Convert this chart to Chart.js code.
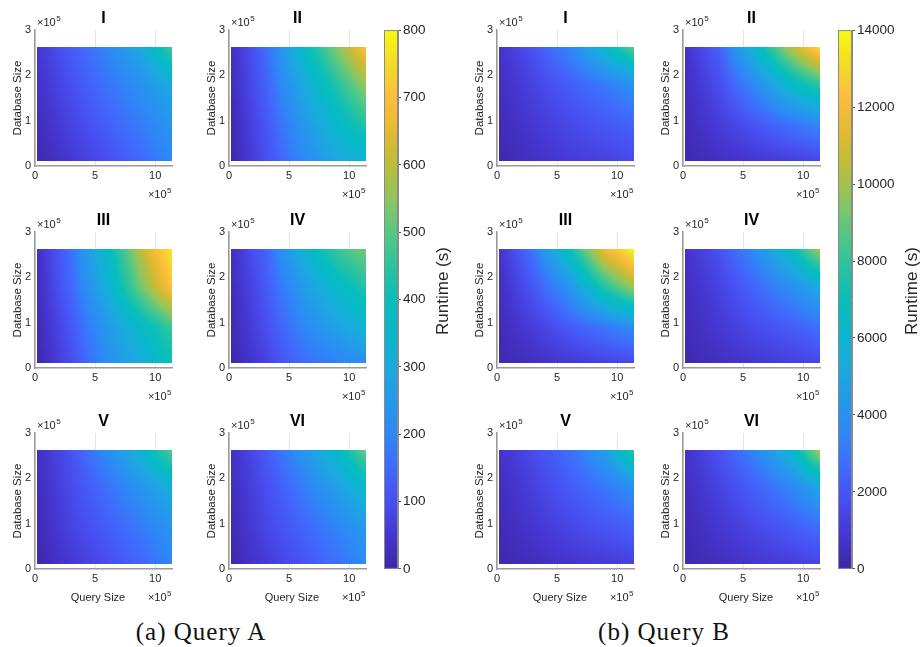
<!DOCTYPE html>
<html>
<head>
<meta charset="utf-8">
<script src="https://cdn.jsdelivr.net/npm/chart.js@4.4.0/dist/chart.umd.min.js"></script>
<style>
  html, body { margin: 0; padding: 0; background: #fff; }
  #fig { position: relative; width: 922px; height: 647px; overflow: hidden; background: #fff; }
  #fig canvas { position: absolute; }
  .cap { position: absolute; font-family: "Liberation Serif", "Times New Roman", serif; font-size: 25px;
         color: #111; white-space: nowrap; transform: translate(-50%, -50%); letter-spacing: 1px; }
</style>
</head>
<body>
<div id="fig"></div>
<script>
// ---- grid nodes of the runtime surfaces ----
const querySizes    = [0.2e5, 3e5, 6e5, 9e5, 11.4e5];
const databaseSizes = [0.1e5, 0.9e5, 1.8e5, 2.63e5];

// ---- axis ticks ----
const xTickValues = [0, 5e5, 10e5];
const xTickLabels = ['0', '5', '10'];
const yTickValues = [0, 1e5, 2e5, 3e5];
const yTickLabels = ['0', '1', '2', '3'];
const runtimeTicksA = [0, 100, 200, 300, 400, 500, 600, 700, 800];
const runtimeTicksB = [0, 2000, 4000, 6000, 8000, 10000, 12000, 14000];

const panelNames = ['I', 'II', 'III', 'IV', 'V', 'VI'];
const yAxisTitle = 'Database Size';
const xAxisTitle = 'Query Size';
const colorbarTitle = 'Runtime (s)';
const captions = ['(a) Query A', '(b) Query B'];

// ---- runtime (s), rows = databaseSizes (ascending), cols = querySizes ----
const runtimeA_I   = [[8, 50, 95, 150, 205], [20, 75, 130, 185, 240], [35, 100, 165, 230, 300], [50, 125, 200, 310, 480]];
const runtimeA_II  = [[5, 95, 200, 290, 330], [12, 110, 235, 355, 440], [22, 130, 290, 440, 560], [30, 145, 360, 545, 700]];
const runtimeA_III = [[5, 95, 215, 310, 400], [12, 115, 245, 370, 470], [22, 145, 320, 540, 710], [30, 160, 370, 610, 780]];
const runtimeA_IV  = [[5, 70, 150, 190, 215], [12, 95, 195, 275, 335], [22, 115, 250, 365, 440], [30, 135, 320, 470, 530]];
const runtimeA_V   = [[5, 50, 95, 145, 200], [12, 75, 125, 180, 235], [22, 90, 160, 240, 320], [30, 105, 215, 350, 500]];
const runtimeA_VI  = [[5, 55, 105, 160, 215], [13, 80, 135, 195, 255], [24, 95, 175, 265, 360], [35, 115, 235, 370, 520]];

const runtimeB_I   = [[150, 550, 1000, 1250, 1500], [300, 900, 1500, 2000, 2400], [500, 1300, 2200, 3100, 4000], [700, 1900, 3500, 6200, 9000]];
const runtimeB_II  = [[150, 500, 850, 1150, 1400], [300, 1050, 1900, 2800, 3500], [450, 1700, 3700, 6300, 8000], [700, 2300, 6200, 10400, 13200]];
const runtimeB_III = [[150, 500, 900, 1250, 1500], [300, 1100, 2100, 3000, 3800], [480, 2000, 4100, 7800, 10000], [750, 2900, 7000, 11800, 14000]];
const runtimeB_IV  = [[150, 500, 850, 1150, 1400], [300, 900, 1600, 2200, 2800], [450, 1300, 2500, 3900, 5300], [700, 1800, 3800, 6600, 10200]];
const runtimeB_V   = [[120, 400, 750, 1000, 1200], [280, 800, 1400, 1900, 2300], [450, 1200, 2100, 3000, 3900], [700, 1600, 2700, 4700, 8000]];
const runtimeB_VI  = [[130, 450, 800, 1100, 1350], [280, 850, 1500, 2100, 2700], [450, 1300, 2300, 3500, 5000], [700, 1800, 3500, 6000, 10200]];

const groups = [
  { panels: [runtimeA_I, runtimeA_II, runtimeA_III, runtimeA_IV, runtimeA_V, runtimeA_VI], max: 800, ticks: runtimeTicksA },
  { panels: [runtimeB_I, runtimeB_II, runtimeB_III, runtimeB_IV, runtimeB_V, runtimeB_VI], max: 14000, ticks: runtimeTicksB }
];

const FONT = '"Liberation Sans", Arial, Helvetica, sans-serif';
const TEXT = '#262626';
const X_MAX = 11.4e5, Y_MAX = 3e5;

// parula-like colour ramp
const RAMP = [
  [0.000, 62, 38, 168], [0.0625, 69, 55, 209], [0.125, 72, 79, 240], [0.1875, 64, 106, 252],
  [0.250, 46, 135, 247], [0.3125, 36, 153, 235], [0.375, 26, 170, 222], [0.4375, 8, 183, 204],
  [0.500, 9, 190, 186], [0.5625, 42, 196, 160], [0.625, 86, 200, 132], [0.6875, 143, 198, 96],
  [0.750, 190, 189, 59], [0.8125, 229, 186, 49], [0.875, 253, 190, 60], [0.9375, 244, 219, 40],
  [1.000, 249, 251, 14]
];
function parula(t) {
  t = Math.max(0, Math.min(1, t));
  for (let i = 1; i < RAMP.length; i++) {
    if (t <= RAMP[i][0]) {
      const a = RAMP[i - 1], b = RAMP[i], f = (t - a[0]) / (b[0] - a[0]);
      return [a[1] + f * (b[1] - a[1]), a[2] + f * (b[2] - a[2]), a[3] + f * (b[3] - a[3])];
    }
  }
  const l = RAMP[RAMP.length - 1];
  return [l[1], l[2], l[3]];
}

function segment(nodes, v) {
  let i = 0;
  while (i < nodes.length - 2 && v > nodes[i + 1]) i++;
  const f = Math.max(0, Math.min(1, (v - nodes[i]) / (nodes[i + 1] - nodes[i])));
  return [i, f];
}
function surfaceValue(xs, ys, z, xv, yv) {
  const [i, fx] = segment(xs, xv);
  const [j, fy] = segment(ys, yv);
  const a = z[j][i] + fx * (z[j][i + 1] - z[j][i]);
  const b = z[j + 1][i] + fx * (z[j + 1][i + 1] - z[j + 1][i]);
  return a + fy * (b - a);
}

// interpolated surface painted through the chart's own scales
const surfacePlugin = {
  id: 'surface',
  beforeDatasetsDraw(chart, args, o) {
    if (!o || !o.z) return;
    const { x, y } = chart.scales;
    const ctx = chart.ctx;
    const px0 = Math.round(x.getPixelForValue(o.xs[0]));
    const px1 = Math.round(x.getPixelForValue(o.xs[o.xs.length - 1]));
    const py0 = Math.round(y.getPixelForValue(o.ys[o.ys.length - 1]));
    const py1 = Math.round(y.getPixelForValue(o.ys[0]));
    const w = px1 - px0, h = py1 - py0;
    const img = ctx.createImageData(w, h);
    for (let j = 0; j < h; j++) {
      const yv = y.getValueForPixel(py0 + j + 0.5);
      for (let i = 0; i < w; i++) {
        const xv = x.getValueForPixel(px0 + i + 0.5);
        const c = parula(surfaceValue(o.xs, o.ys, o.z, xv, yv) / o.max);
        const k = (j * w + i) * 4;
        img.data[k] = c[0]; img.data[k + 1] = c[1]; img.data[k + 2] = c[2]; img.data[k + 3] = 255;
      }
    }
    const off = document.createElement('canvas');
    off.width = w; off.height = h;
    off.getContext('2d').putImageData(img, 0, 0);
    ctx.drawImage(off, px0, py0);
  }
};

function drawExponent(ctx, x, baseline, align) {
  ctx.save();
  ctx.fillStyle = TEXT;
  ctx.textBaseline = 'alphabetic';
  ctx.textAlign = 'left';
  ctx.font = '11px ' + FONT;
  const base = '\u00d710';
  const w1 = ctx.measureText(base).width;
  ctx.font = '8px ' + FONT;
  const w2 = ctx.measureText('5').width;
  const x0 = align === 'right' ? x - w1 - w2 - 1 : x;
  ctx.font = '11px ' + FONT;
  ctx.fillText(base, x0, baseline);
  ctx.font = '8px ' + FONT;
  ctx.fillText('5', x0 + w1 + 0.5, baseline - 5);
  ctx.restore();
}

const panelTextPlugin = {
  id: 'panelText',
  afterDraw(chart, args, o) {
    const { ctx, chartArea: a } = chart;
    ctx.save();
    ctx.fillStyle = '#000';
    ctx.font = 'bold 16px ' + FONT;
    ctx.textAlign = 'center';
    ctx.textBaseline = 'middle';
    ctx.fillText(o.title, (a.left + a.right) / 2, a.top - 11.5);

    drawExponent(ctx, a.left + 2, a.top - 4, 'left');
    drawExponent(ctx, a.right, a.bottom + 31.5, 'right');

    ctx.fillStyle = TEXT;
    ctx.font = '11.5px ' + FONT;
    ctx.save();
    ctx.translate(a.left - 17, (a.top + a.bottom) / 2);
    ctx.rotate(-Math.PI / 2);
    ctx.textAlign = 'center';
    ctx.textBaseline = 'middle';
    ctx.fillText(yAxisTitle, 0, 0);
    ctx.restore();

    if (o.showX) {
      ctx.font = '11px ' + FONT;
      ctx.textAlign = 'center';
      ctx.textBaseline = 'alphabetic';
      ctx.fillText(xAxisTitle, a.left + 0.46 * (a.right - a.left), a.bottom + 31.5);
    }
    ctx.restore();
  }
};

const colorbarPlugin = {
  id: 'colorbar',
  beforeDatasetsDraw(chart, args, o) {
    if (!o || !o.max) return;
    const { ctx, chartArea: a, scales: { y } } = chart;
    for (let py = Math.floor(a.top); py < Math.ceil(a.bottom); py++) {
      const c = parula(y.getValueForPixel(py + 0.5) / o.max);
      ctx.fillStyle = `rgb(${c[0] | 0},${c[1] | 0},${c[2] | 0})`;
      ctx.fillRect(a.left, py, a.right - a.left, 1);
    }
    ctx.save();
    ctx.strokeStyle = '#8a8a8a';
    ctx.lineWidth = 1;
    ctx.strokeRect(a.left + 0.5, a.top + 0.5, a.right - a.left - 1, a.bottom - a.top - 1);
    ctx.restore();
  },
  afterDraw(chart, args, o) {
    if (!o || !o.max) return;
    const { ctx } = chart;
    ctx.save();
    ctx.fillStyle = TEXT;
    ctx.font = '17px ' + FONT;
    ctx.translate(o.labelX, o.labelY - chart.canvas.offsetTop);
    ctx.rotate(-Math.PI / 2);
    ctx.textAlign = 'center';
    ctx.textBaseline = 'middle';
    ctx.fillText(colorbarTitle, 0, 0);
    ctx.restore();
  }
};

const fig = document.getElementById('fig');
function addCanvas(left, top, w, h) {
  const c = document.createElement('canvas');
  c.width = w; c.height = h;
  c.style.left = left + 'px'; c.style.top = top + 'px';
  c.style.width = w + 'px'; c.style.height = h + 'px';
  fig.appendChild(c);
  return c;
}

// layout of the two panel groups
const AX_W = 137, AX_H = 136, Y_AX = 40, X_AX = 40, PAD_T = 30, PAD_R = 8;
const colLefts = [[35, 229], [497, 683]];
const rowTops = [30, 232, 433];
const colorbars = [
  { left: 384, width: 80, labelX: 59 },
  { left: 838, width: 84, labelX: 74 }
];
const captionPos = [[201, 632], [664, 632]];

groups.forEach((g, gi) => {
  g.panels.forEach((z, pi) => {
    const row = Math.floor(pi / 2), col = pi % 2;
    const L = colLefts[gi][col], T = rowTops[row];
    const canvas = addCanvas(L - Y_AX, T - PAD_T, Y_AX + AX_W + PAD_R, PAD_T + AX_H + X_AX);
    const nodes = [];
    databaseSizes.forEach(d => querySizes.forEach(q => nodes.push({ x: q, y: d })));
    new Chart(canvas, {
      type: 'scatter',
      data: { datasets: [{ data: nodes, pointRadius: 0, pointHoverRadius: 0 }] },
      options: {
        responsive: false, animation: false, devicePixelRatio: 1,
        events: [],
        layout: { padding: { left: 0, top: PAD_T, right: PAD_R, bottom: 0 } },
        plugins: {
          legend: { display: false }, tooltip: { enabled: false },
          surface: { xs: querySizes, ys: databaseSizes, z: z, max: g.max },
          panelText: { title: panelNames[pi], showX: row === 2 }
        },
        scales: {
          x: {
            type: 'linear', min: 0, max: X_MAX,
            afterFit(s) { s.height = X_AX; },
            afterBuildTicks(s) { s.ticks = xTickValues.map(v => ({ value: v })); },
            ticks: { callback: (v, i) => xTickLabels[i], color: TEXT, font: { family: FONT, size: 11 },
                     padding: 3, maxRotation: 0, autoSkip: false },
            grid: { color: '#e6e6e6', lineWidth: 1, drawTicks: false },
            border: { color: '#9a9a9a', width: 1.5 }
          },
          y: {
            type: 'linear', min: 0, max: Y_MAX,
            afterFit(s) { s.width = Y_AX; },
            afterBuildTicks(s) { s.ticks = yTickValues.map(v => ({ value: v })); },
            ticks: { callback: (v, i) => yTickLabels[i], color: TEXT, font: { family: FONT, size: 11 },
                     padding: 4, autoSkip: false },
            grid: { display: false, drawTicks: false },
            border: { color: '#9a9a9a', width: 1.5 }
          }
        }
      },
      plugins: [surfacePlugin, panelTextPlugin]
    });
  });

  // colour bar
  const cb = colorbars[gi];
  const cbCanvas = addCanvas(cb.left, 20, cb.width, 559);
  new Chart(cbCanvas, {
    type: 'scatter',
    data: { datasets: [] },
    options: {
      responsive: false, animation: false, devicePixelRatio: 1, events: [],
      layout: { padding: { left: 0, top: 10, right: 0, bottom: 10 } },
      plugins: { legend: { display: false }, tooltip: { enabled: false },
                 colorbar: { max: g.max, labelX: cb.labelX, labelY: 291 } },
      scales: {
        x: { display: false, min: 0, max: 1 },
        y: {
          position: 'right', min: 0, max: g.max,
          afterFit(s) { s.width = cb.width - 14; },
          afterBuildTicks(s) { s.ticks = g.ticks.map(v => ({ value: v })); },
          ticks: { color: TEXT, font: { family: FONT, size: 13.5 }, padding: 2, autoSkip: false,
                   callback: (v, i) => String(g.ticks[i]) },
          grid: { drawOnChartArea: false, drawTicks: true, tickLength: 3, color: '#555' },
          border: { color: '#8a8a8a', width: 1 }
        }
      }
    },
    plugins: [colorbarPlugin]
  });

  const cap = document.createElement('div');
  cap.className = 'cap';
  cap.textContent = captions[gi];
  cap.style.left = captionPos[gi][0] + 'px';
  cap.style.top = captionPos[gi][1] + 'px';
  fig.appendChild(cap);
});
</script>
</body>
</html>
